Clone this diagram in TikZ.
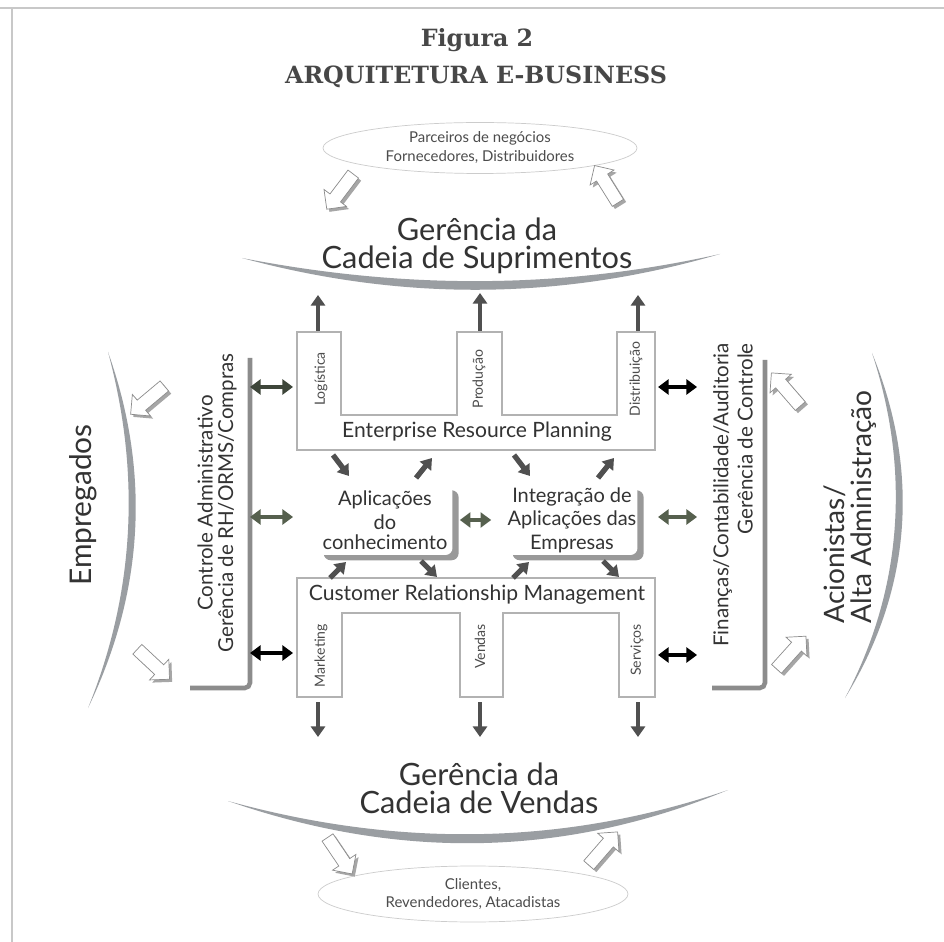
\documentclass[tikz,border=0pt]{standalone}
\usepackage{fontspec}
\setmainfont{Lato}
\newfontfamily\titlefont{DejaVu Serif}
\usetikzlibrary{
    arrows.meta,
    shapes.geometric,
    shapes.arrows,
    shadows,
    positioning
}
\definecolor{ink}{HTML}{333333}
\definecolor{arrgray}{HTML}{505050}
\definecolor{olive}{HTML}{56604E}
\definecolor{darkolive}{HTML}{3E463A}
\definecolor{rulegray}{HTML}{C8C8C8}
\definecolor{swoosh}{HTML}{9A9EA2}

\begin{document}
\begin{tikzpicture}[x=0.02cm, y=-0.02cm,
        every node/.style={text=ink},
        headfont/.style={font=\fontsize{17.5}{19}\selectfont},
        sidelbl/.style={font=\fontsize{11.7}{13}\selectfont, rotate=90},
        prong/.style={font=\fontsize{8}{9}\selectfont, rotate=90, text=black!70},
        midlbl/.style={font=\fontsize{12}{13}\selectfont},
        cloud/.style={ellipse, draw=black!20, fill=white, inner sep=0pt,
            font=\fontsize{8.5}{9.5}\selectfont, text=black!70},
        appbox/.style={rounded corners=4pt, fill=white, inner sep=0pt,
            font=\fontsize{11.4}{12}\selectfont,
            drop shadow={shadow xshift=3.5pt, shadow yshift=-3pt, fill=black!40, opacity=1}},
        hollow/.style={single arrow, draw=black!45, fill=white, line width=0.4pt,
            inner sep=0pt, minimum height=0.88cm,
            single arrow head extend=0.15cm, single arrow head indent=0pt,
            drop shadow={shadow xshift=1.5pt, shadow yshift=-1.5pt, fill=black!35, opacity=1}},
        thk/.style={arrgray, line width=2.6pt, -{Triangle[width=8pt,length=6pt]}},
        dbl/.style={line width=2.2pt, {Triangle[width=8.5pt,length=6pt]}-{Triangle[width=8.5pt,length=6pt]}},
        ushape/.style={draw=black!30, line width=0.8pt, fill=white},
        bracket/.style={draw=black!45, line width=2.6pt, rounded corners=3pt},
        swoop/.style={fill=swoosh}
    ]
    \useasboundingbox (0,0) rectangle (944,942);
    \fill[white] (0,0) rectangle (944,942);
    \draw[rulegray, line width=1.2pt] (0,8) -- (944,8);
    \draw[rulegray, line width=1.2pt] (12,8) -- (12,942);

    \node[font=\titlefont\bfseries\fontsize{13.5}{15}\selectfont, text=black!72] (fig) at (477,40) {Figura 2};
    \node[font=\titlefont\bfseries\fontsize{13.5}{15}\selectfont, text=black!72] (arq) at (476,77) {ARQUITETURA E-BUSINESS};

    \node[cloud, minimum width=6.28cm, minimum height=1.02cm] (pn) at (480,148) {\shortstack{Parceiros de negócios\\Fornecedores, Distribuidores}};
    \node[cloud, minimum width=6.2cm, minimum height=1.12cm] (cl) at (473,894) {\shortstack{Clientes,\\Revendedores, Atacadistas}};

    \node[headfont] (gs) at (477,246) {\shortstack{Gerência da\\Cadeia de Suprimentos}};
    \node[headfont] (gv) at (479,788) {\shortstack{Gerência da\\Cadeia de Vendas}};
    \node[font=\fontsize{17}{19}\selectfont, rotate=90] (emp) at (83,505) {Empregados};
    \node[font=\fontsize{16}{17}\selectfont, rotate=90] (aci) at (850,507) {\shortstack[l]{Acionistas/\\Alta Administração}};
    \node[sidelbl] (ca) at (217,503) {\shortstack{Controle Administrativo\\Gerência de RH/ORMS/Compras}};
    \node[sidelbl] (fc) at (733,495) {\shortstack[r]{Finanças/Contabilidade/Auditoria\\Gerência de Controle}};

    \fill[swoop] (242,258) .. controls (401,301) and (559,301) .. (720,254)
        .. controls (559,290) and (401,289) .. (242,258) -- cycle;
    \fill[swoop] (228,801) .. controls (395,859) and (561,859) .. (728,790)
        .. controls (561,847) and (395,847) .. (228,801) -- cycle;
    \fill[swoop] (108,352) .. controls (150,470) and (145,590) .. (88,708)
        .. controls (136,590) and (140,470) .. (108,352) -- cycle;
    \fill[swoop] (872,353) .. controls (918,465) and (915,585) .. (845,698)
        .. controls (905,585) and (909,465) .. (872,353) -- cycle;

    \draw[bracket] (250,358) -- (250,688) -- (190,688);
    \draw[bracket] (765,360) -- (765,688) -- (712,688);

    \draw[ushape] (297,332) -- (341,332) -- (341,415) -- (457,415) -- (457,332) -- (502,332) -- (502,415)
        -- (617,415) -- (617,332) -- (655,332) -- (655,450) -- (297,450) -- cycle;
    \draw[ushape] (297,578) -- (655,578) -- (655,697) -- (619,697) -- (619,613) -- (503,613) -- (503,697)
        -- (460,697) -- (460,613) -- (342,613) -- (342,697) -- (297,697) -- cycle;

    \node[prong] (lg) at (321,379) {Logística};
    \node[prong] (pr) at (479,379) {Produção};
    \node[prong] (ds) at (636,379) {Distribuição};
    \node[midlbl] (erp) at (477,432) {Enterprise Resource Planning};
    \node[midlbl] (crm) at (477,595) {Customer Relationship Management};
    \node[prong, anchor=east] (mk) at (321,618) {Marketing};
    \node[prong, anchor=east] (vd) at (480,618) {Vendas};
    \node[prong, anchor=east] (sv) at (637,618) {Serviços};

    \node[appbox, minimum width=2.7cm, minimum height=1.4cm] (ka) at (385,520) {\shortstack{Aplicações\\do\\conhecimento}};
    \node[appbox, minimum width=2.62cm, minimum height=1.4cm] (ia) at (572,520) {\shortstack{Integração de\\Aplicações das\\Empresas}};
    \draw[dbl, olive, shorten <=0.14cm, shorten >=0.3cm] (ka) -- (ia);

    \node[hollow, rotate=233] (h1) at (342,189) {\rule{0pt}{0.25cm}};
    \node[hollow, rotate=122] (h2) at (608,187) {\rule{0pt}{0.25cm}};
    \node[hollow, rotate=220] (h3) at (150,398) {\rule{0pt}{0.25cm}};
    \node[hollow, rotate=-43] (h4) at (151,662) {\rule{0pt}{0.25cm}};
    \node[hollow, rotate=131] (h5) at (788,392) {\rule{0pt}{0.25cm}};
    \node[hollow, rotate=48] (h6) at (789,655) {\rule{0pt}{0.25cm}};
    \node[hollow, rotate=-56] (h7) at (338,853) {\rule{0pt}{0.25cm}};
    \node[hollow, rotate=49] (h8) at (601,851) {\rule{0pt}{0.25cm}};

    \coordinate (p1) at (318,331);
    \coordinate (p2) at (480,331);
    \coordinate (p3) at (638,331);
    \coordinate (s1) at (318,295);
    \coordinate (s2) at (480,293);
    \coordinate (s3) at (638,295);
    \draw[thk] (p1) -- (s1);
    \draw[thk] (p2) -- (s2);
    \draw[thk] (p3) -- (s3);

    \coordinate (q1) at (318,702);
    \coordinate (q2) at (480,702);
    \coordinate (q3) at (638,702);
    \coordinate (v1) at (318,737);
    \coordinate (v2) at (480,737);
    \coordinate (v3) at (638,737);
    \draw[thk] (q1) -- (v1);
    \draw[thk] (q2) -- (v2);
    \draw[thk] (q3) -- (v3);

    \coordinate (e1) at (333,455);
    \coordinate (e2) at (349,476);
    \coordinate (e3) at (416,478);
    \coordinate (e4) at (432,458);
    \coordinate (e5) at (514,455);
    \coordinate (e6) at (530,476);
    \coordinate (e7) at (598,478);
    \coordinate (e8) at (614,458);
    \draw[thk, line width=3pt] (e1) -- (e2);
    \draw[thk, line width=3pt] (e3) -- (e4);
    \draw[thk, line width=3pt] (e5) -- (e6);
    \draw[thk, line width=3pt] (e7) -- (e8);

    \coordinate (c1) at (330,578);
    \coordinate (c2) at (346,562);
    \coordinate (c3) at (421,561);
    \coordinate (c4) at (437,577);
    \coordinate (c5) at (513,578);
    \coordinate (c6) at (529,562);
    \coordinate (c7) at (603,561);
    \coordinate (c8) at (619,577);
    \draw[thk, line width=3pt] (c1) -- (c2);
    \draw[thk, line width=3pt] (c3) -- (c4);
    \draw[thk, line width=3pt] (c5) -- (c6);
    \draw[thk, line width=3pt] (c7) -- (c8);

    \coordinate (la1) at (250,387);
    \coordinate (lb1) at (293,387);
    \coordinate (la2) at (250,517);
    \coordinate (lb2) at (293,517);
    \coordinate (la3) at (250,653);
    \coordinate (lb3) at (293,653);
    \draw[dbl, darkolive] (la1) -- (lb1);
    \draw[dbl, olive] (la2) -- (lb2);
    \draw[dbl, black] (la3) -- (lb3);

    \coordinate (ra1) at (658,387);
    \coordinate (rb1) at (697,387);
    \coordinate (ra2) at (658,517);
    \coordinate (rb2) at (697,517);
    \coordinate (ra3) at (658,655);
    \coordinate (rb3) at (697,655);
    \draw[dbl, black] (ra1) -- (rb1);
    \draw[dbl, olive] (ra2) -- (rb2);
    \draw[dbl, black] (ra3) -- (rb3);
\end{tikzpicture}
\end{document}
